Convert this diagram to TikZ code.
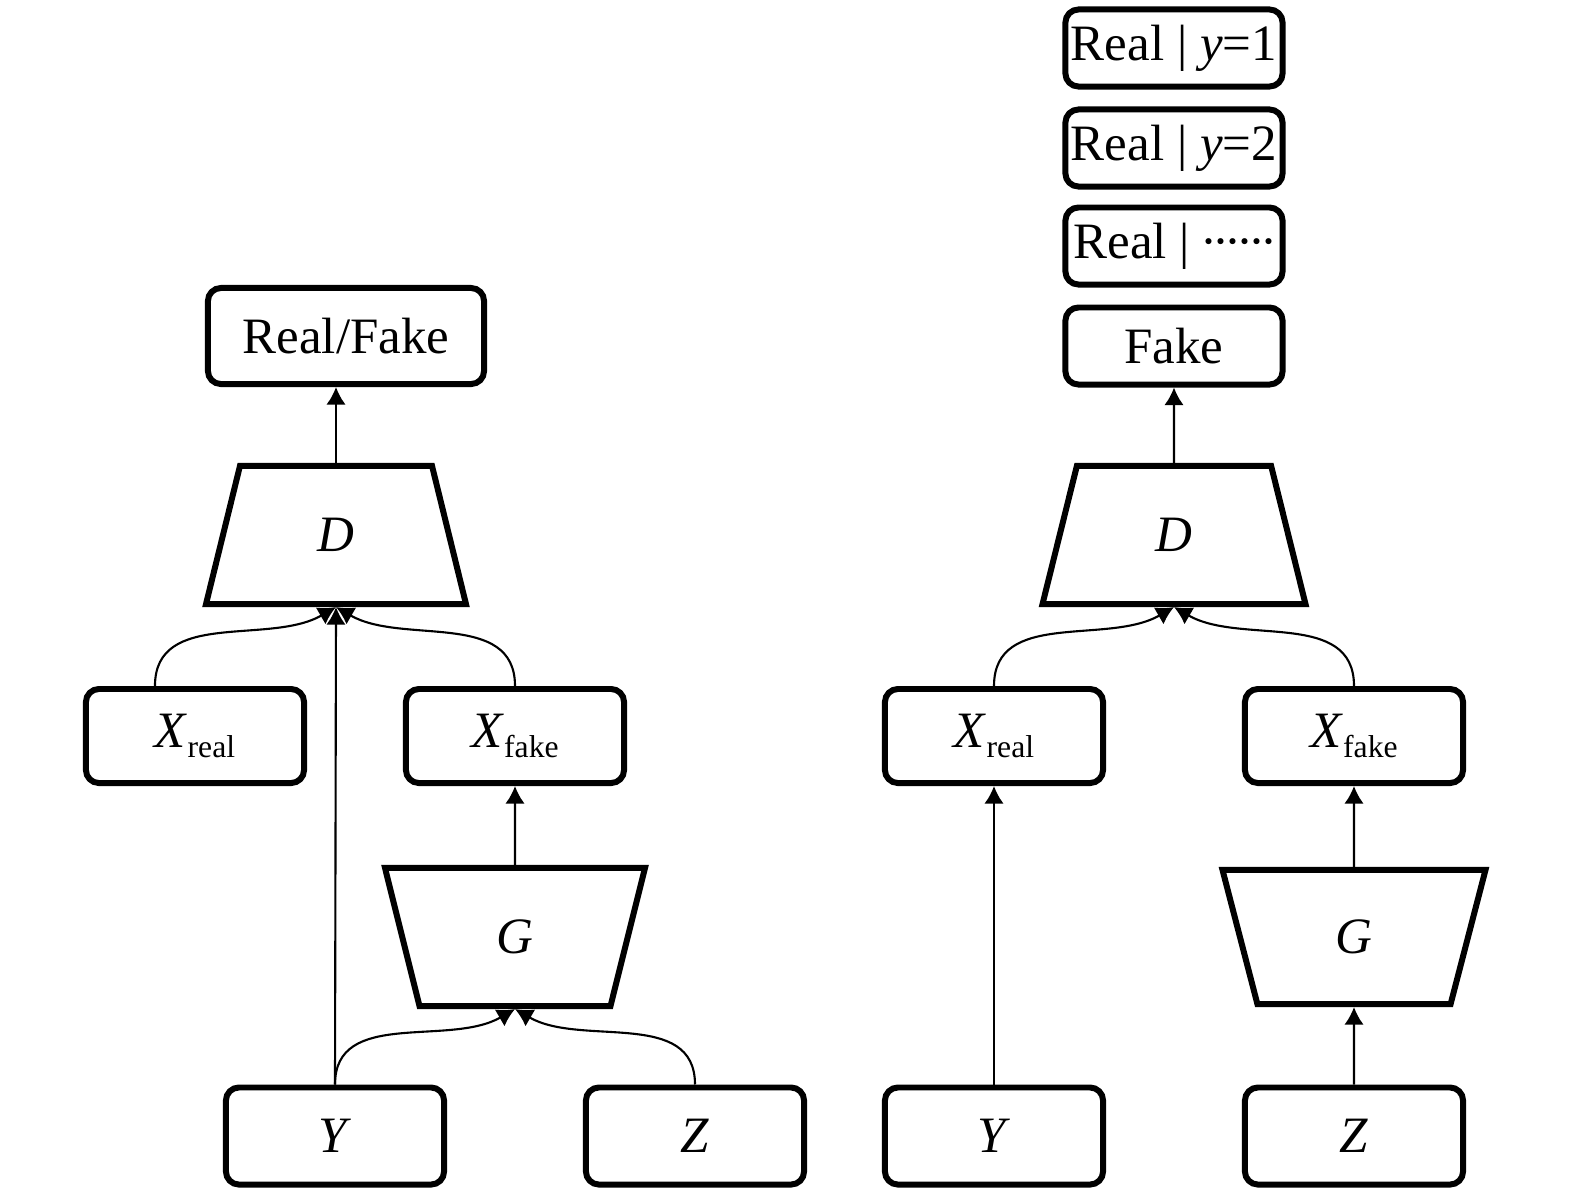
\documentclass[tikz,border=0pt]{standalone}
\usepackage{fontspec}
\setmainfont{Liberation Serif}
\usetikzlibrary{shapes.geometric,arrows.meta}

\tikzset{
  box/.style={draw,line width=1.7pt,rounded corners=1.3mm,minimum width=2.18cm,minimum height=0.94cm,inner sep=0pt},
  net/.style={draw,line width=1.7pt,trapezium,trapezium stretches=true,minimum width=2.6cm,minimum height=1.38cm,inner sep=0pt},
  up/.style={trapezium left angle=79,trapezium right angle=79},
  down/.style={trapezium left angle=101,trapezium right angle=101},
  link/.style={line width=0.6pt,-{Latex[length=5pt,width=5.5pt]}}
}
\newcommand{\lowidx}[1]{\raisebox{-2.8pt}{\fontsize{9}{11}\selectfont #1}}
\newcommand{\onedot}{\makebox[0.12cm]{·}}
\newcommand{\dotrow}{\onedot\onedot\onedot\onedot\onedot\onedot}

\begin{document}
\begin{tikzpicture}[x=0.01cm,y=-0.01cm,font=\fontsize{14.5}{17}\selectfont]

\useasboundingbox (0,0) rectangle (1575,1199);

\node[box,minimum width=2.76cm,minimum height=0.96cm] (rfL) at (346,336) {Real/Fake};
\node[net,up] (dL) at (336,535) {\textit{D}};
\node[box] (xrL) at (195,736) {\textit{X}\lowidx{real}};
\node[box] (xfL) at (515,736) {\textit{X}\lowidx{fake}};
\node[net,down] (gL) at (515,937) {\textit{G}};
\node[box,minimum height=0.97cm] (yL) at (335,1136) {\textit{Y}};
\node[box,minimum height=0.97cm] (zL) at (695,1136) {\textit{Z}};

\draw[link] (dL.north) -- (dL.north |- rfL.south);
\draw[link] ([xshift=-4mm]xrL.north) to[out=90,in=-150] (dL.south);
\draw[link] (xfL.north) to[out=90,in=-30] (dL.south);
\draw[link] (yL.north) -- (dL.south);
\draw[link] (gL.north) -- (xfL.south);
\draw[link] (yL.north) to[out=90,in=-150] (gL.south);
\draw[link] (zL.north) to[out=90,in=-30] (gL.south);

\foreach \y/\lab [count=\i] in {48/{Real | \textit{y}=1},148/{Real | \textit{y}=2},246/{Real | \dotrow},346/Fake}
    \node[box,minimum width=2.17cm,minimum height=0.77cm] (outR\i) at (1174,\y) {\lab};

\node[net,up,minimum width=2.63cm] (dR) at (1174,535) {\textit{D}};
\node[box] (xrR) at (994,736) {\textit{X}\lowidx{real}};
\node[box] (xfR) at (1354,736) {\textit{X}\lowidx{fake}};
\node[net,down,minimum width=2.63cm,minimum height=1.34cm] (gR) at (1354,937) {\textit{G}};
\node[box,minimum height=0.97cm] (yR) at (994,1136) {\textit{Y}};
\node[box,minimum height=0.97cm] (zR) at (1354,1136) {\textit{Z}};

\draw[link] (dR.north) -- (outR4.south);
\draw[link] (xrR.north) to[out=90,in=-150] (dR.south);
\draw[link] (xfR.north) to[out=90,in=-30] (dR.south);
\draw[link] (yR.north) -- (xrR.south);
\draw[link] (gR.north) -- (xfR.south);
\draw[link] (zR.north) -- (gR.south);

\end{tikzpicture}
\end{document}
